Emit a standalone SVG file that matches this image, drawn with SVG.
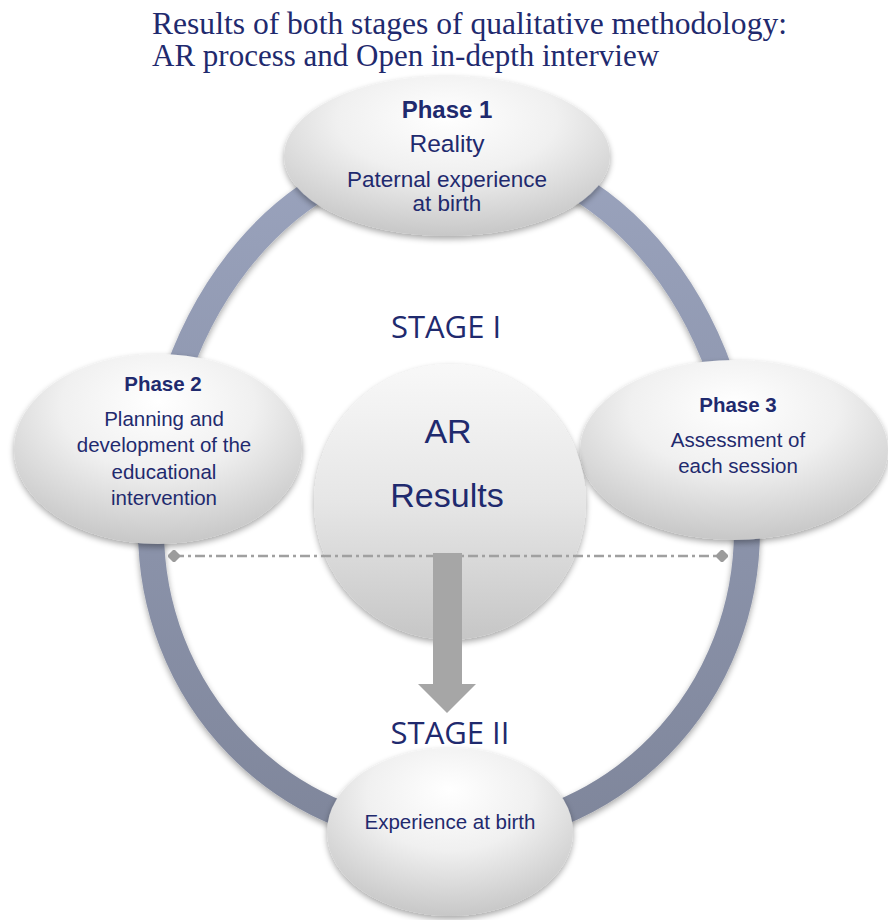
<svg xmlns="http://www.w3.org/2000/svg" width="888" height="920" viewBox="0 0 888 920">
<defs>
<radialGradient id="nodeGrad" cx="50%" cy="30%" r="75%" fx="50%" fy="25%">
<stop offset="0" stop-color="#ffffff"/>
<stop offset="0.45" stop-color="#f0f0f0"/>
<stop offset="1" stop-color="#c2c2c2"/>
</radialGradient>
<linearGradient id="centerGrad" x1="0" y1="0" x2="0" y2="1">
<stop offset="0" stop-color="#f8f8f8"/>
<stop offset="0.5" stop-color="#e6e6e6"/>
<stop offset="1" stop-color="#c6c6c6"/>
</linearGradient>
<linearGradient id="ringGrad" x1="0" y1="0" x2="0" y2="1">
<stop offset="0" stop-color="#9aa3bd"/>
<stop offset="1" stop-color="#7f869b"/>
</linearGradient>
<filter id="shadow" x="-20%" y="-20%" width="140%" height="150%">
<feGaussianBlur in="SourceAlpha" stdDeviation="3"/>
<feOffset dx="0" dy="3" result="b"/>
<feComponentTransfer><feFuncA type="linear" slope="0.35"/></feComponentTransfer>
<feMerge><feMergeNode/><feMergeNode in="SourceGraphic"/></feMerge>
</filter>
<marker id="diamond" viewBox="-6 -6 12 12" markerWidth="12" markerHeight="12" refX="0" refY="0" markerUnits="userSpaceOnUse" orient="auto">
<polygon points="0,-7 7,0 0,7 -7,0" fill="#9b9b9b"/>
</marker>
<style>
.title{font-family:"Liberation Serif","Times New Roman",serif;font-size:31px;fill:#1f2a6e}
.t{font-family:"Liberation Sans",Arial,sans-serif;fill:#1f2a6e;text-anchor:middle}
.b{font-weight:bold}
.stage{font-family:"Open Sans","Noto Sans",sans-serif;font-size:31px;fill:#1f2a6e;text-anchor:middle}
.node{fill:url(#nodeGrad);filter:url(#shadow)}
</style>
</defs>
<rect width="888" height="920" fill="#ffffff"/>

<g id="title">
<text class="title" x="152" y="34" textLength="635" lengthAdjust="spacingAndGlyphs">Results of both stages of qualitative methodology:</text>
<text class="title" x="152" y="66">AR process and Open in-depth interview</text>
</g>

<g id="ring">
<path d="M 151 530 A 298 380 0 0 1 747 530 A 298 305 0 0 1 151 530 Z" fill="none" stroke="url(#ringGrad)" stroke-width="26" filter="url(#shadow)"/>
</g>

<g id="phase1">
<ellipse class="node" cx="447" cy="156" rx="163" ry="80"/>
<text class="t b" x="447" y="118" font-size="24">Phase 1</text>
<text class="t" x="447" y="152" font-size="24.5">Reality</text>
<text class="t" x="447" y="187" font-size="22.5">Paternal experience</text>
<text class="t" x="447" y="211" font-size="22.5">at birth</text>
</g>

<g id="phase2">
<ellipse class="node" cx="158" cy="449" rx="144" ry="95"/>
<text class="t b" x="163" y="391" font-size="20.5">Phase 2</text>
<text class="t" x="164" y="426" font-size="20.5">Planning and</text>
<text class="t" x="164" y="452" font-size="20.5">development of the</text>
<text class="t" x="164" y="479" font-size="20.5">educational</text>
<text class="t" x="164" y="505" font-size="20.5">intervention</text>
</g>

<g id="phase3">
<ellipse class="node" cx="734" cy="450" rx="154" ry="90"/>
<text class="t b" x="738" y="412" font-size="20.5">Phase 3</text>
<text class="t" x="738" y="447" font-size="20.5">Assessment of</text>
<text class="t" x="738" y="473" font-size="20.5">each session</text>
</g>

<g id="stage1">
<text class="stage" x="446" y="338">STAGE I</text>
</g>

<g id="ar-results">
<ellipse cx="450" cy="502" rx="136" ry="138" fill="url(#centerGrad)" filter="url(#shadow)"/>
<text class="t" x="448" y="443" font-size="34">AR</text>
<text class="t" x="447" y="507" font-size="34">Results</text>
</g>

<g id="connectors">
<line x1="174" y1="556" x2="722" y2="556" stroke="#a0a0a0" stroke-width="2.5" stroke-dasharray="10 4 3 4" marker-start="url(#diamond)" marker-end="url(#diamond)"/>
<polygon points="433,553 462,553 462,684 476,684 447,713 418,684 433,684" fill="#a6a6a6"/>
</g>

<g id="stage2">
<text class="stage" x="450" y="744">STAGE II</text>
</g>

<g id="experience">
<ellipse class="node" cx="450" cy="832" rx="123" ry="84"/>
<text class="t" x="450" y="829" font-size="20.5">Experience at birth</text>
</g>
</svg>
